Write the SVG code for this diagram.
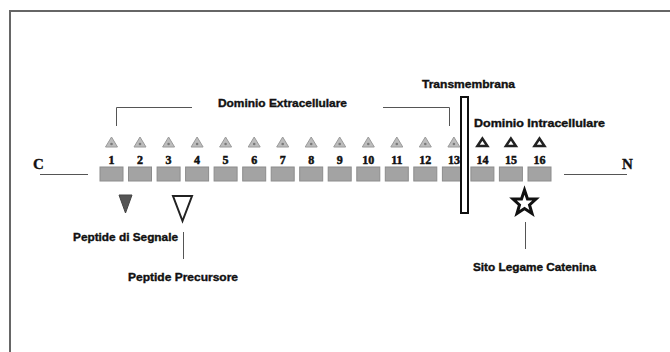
<svg xmlns="http://www.w3.org/2000/svg" width="670" height="352" viewBox="0 0 670 352">
<defs>
<style>
.t{font-family:"Liberation Sans",Arial,sans-serif;font-weight:bold;fill:#111;stroke:#111;stroke-width:0.35;}
.lbl{font-size:10.5px;}
.end{font-family:"Liberation Serif","Times New Roman",serif;font-size:15px;}
.num{font-family:"Liberation Serif","Times New Roman",serif;font-size:12px;text-anchor:middle;stroke-width:0.5;}
.box{fill:#a3a3a3;stroke:#8c8c8c;stroke-width:1;}
.gt{fill:#bdbdbd;stroke:#9a9a9a;stroke-width:1;}
.ot{fill:#fff;stroke:#222;stroke-width:2.5;stroke-linejoin:miter;}
.ln{stroke:#555;stroke-width:1;fill:none;}
</style>
<g id="seg">
<rect class="box" x="0" y="0" width="23" height="14"/>
</g>
<g id="gtri">
<polygon class="gt" points="11.5,-30 5.5,-20 17.5,-20"/>
<circle cx="11.5" cy="-23" r="1.3" fill="#7a7a7a"/>
</g>
<g id="otri">
<polygon class="ot" points="11.5,-28.5 6.5,-21 16.5,-21"/>
</g>
</defs>
<g id="frame">
<line x1="10" y1="11" x2="670" y2="11" stroke="#666" stroke-width="2"/>
<line x1="10" y1="10" x2="10" y2="352" stroke="#666" stroke-width="2"/>
</g>
<g id="connectors">
<line class="ln" x1="40" y1="174.5" x2="88" y2="174.5"/>
<line class="ln" x1="564" y1="174.5" x2="627" y2="174.5"/>
<polyline class="ln" points="116.5,126 116.5,107.5 192,107.5"/>
<polyline class="ln" points="383,107.5 449.5,107.5 449.5,126"/>
<line class="ln" x1="183.5" y1="232" x2="183.5" y2="259"/>
<line class="ln" x1="525.5" y1="222" x2="525.5" y2="249"/>
</g>
<g id="label-C"><text class="t end" x="33" y="168.5">C</text></g>
<g id="label-N"><text class="t end" x="622" y="168.5">N</text></g>
<g id="label-extra"><text class="t lbl" x="218" y="107" textLength="129" lengthAdjust="spacingAndGlyphs">Dominio Extracellulare</text></g>
<g id="label-trans"><text class="t lbl" x="422" y="88" textLength="93" lengthAdjust="spacingAndGlyphs">Transmembrana</text></g>
<g id="label-intra"><text class="t lbl" x="474" y="127" textLength="131" lengthAdjust="spacingAndGlyphs">Dominio  Intracellulare</text></g>
<g id="segments">
<g id="s1" transform="translate(100,167)"><use href="#seg"/><use href="#gtri"/><text class="t num" x="11.5" y="-3.5">1</text></g>
<g id="s2" transform="translate(128.5,167)"><use href="#seg"/><use href="#gtri"/><text class="t num" x="11.5" y="-3.5">2</text></g>
<g id="s3" transform="translate(157.1,167)"><use href="#seg"/><use href="#gtri"/><text class="t num" x="11.5" y="-3.5">3</text></g>
<g id="s4" transform="translate(185.6,167)"><use href="#seg"/><use href="#gtri"/><text class="t num" x="11.5" y="-3.5">4</text></g>
<g id="s5" transform="translate(214.1,167)"><use href="#seg"/><use href="#gtri"/><text class="t num" x="11.5" y="-3.5">5</text></g>
<g id="s6" transform="translate(242.7,167)"><use href="#seg"/><use href="#gtri"/><text class="t num" x="11.5" y="-3.5">6</text></g>
<g id="s7" transform="translate(271.2,167)"><use href="#seg"/><use href="#gtri"/><text class="t num" x="11.5" y="-3.5">7</text></g>
<g id="s8" transform="translate(299.7,167)"><use href="#seg"/><use href="#gtri"/><text class="t num" x="11.5" y="-3.5">8</text></g>
<g id="s9" transform="translate(328.2,167)"><use href="#seg"/><use href="#gtri"/><text class="t num" x="11.5" y="-3.5">9</text></g>
<g id="s10" transform="translate(356.8,167)"><use href="#seg"/><use href="#gtri"/><text class="t num" x="11.5" y="-3.5">10</text></g>
<g id="s11" transform="translate(385.3,167)"><use href="#seg"/><use href="#gtri"/><text class="t num" x="11.5" y="-3.5">11</text></g>
<g id="s12" transform="translate(413.8,167)"><use href="#seg"/><use href="#gtri"/><text class="t num" x="11.5" y="-3.5">12</text></g>
<g id="s13" transform="translate(442.4,167)"><use href="#seg"/><use href="#gtri"/><text class="t num" x="11.5" y="-3.5">13</text></g>
<g id="s14" transform="translate(470.9,167)"><use href="#seg"/><use href="#otri"/><text class="t num" x="11.5" y="-3.5">14</text></g>
<g id="s15" transform="translate(499.4,167)"><use href="#seg"/><use href="#otri"/><text class="t num" x="11.5" y="-3.5">15</text></g>
<g id="s16" transform="translate(528,167)"><use href="#seg"/><use href="#otri"/><text class="t num" x="11.5" y="-3.5">16</text></g>
</g>
<g id="membrane">
<rect x="461" y="97" width="7" height="116" fill="#fff" stroke="#111" stroke-width="2"/>
</g>
<g id="signal">
<polygon points="119,195 132,195 125.5,213" fill="#555" stroke="#444" stroke-width="1"/>
<text class="t lbl" x="73" y="241" textLength="105" lengthAdjust="spacingAndGlyphs">Peptide di Segnale</text>
</g>
<g id="precursor">
<polygon points="173,196 192,196 182.5,221" fill="#fff" stroke="#222" stroke-width="2"/>
<text class="t lbl" x="128" y="281" textLength="110" lengthAdjust="spacingAndGlyphs">Peptide Precursore</text>
</g>
<g id="catenin">
<polygon points="524.5,190 527.5,199 536,199 529.5,205 532,213.5 524.5,208.5 517,213.5 519.5,205 513,199 521.5,199" fill="#fff" stroke="#111" stroke-width="3" stroke-linejoin="miter"/>
<text class="t lbl" x="473" y="271" textLength="123" lengthAdjust="spacingAndGlyphs">Sito Legame Catenina</text>
</g>
</svg>
